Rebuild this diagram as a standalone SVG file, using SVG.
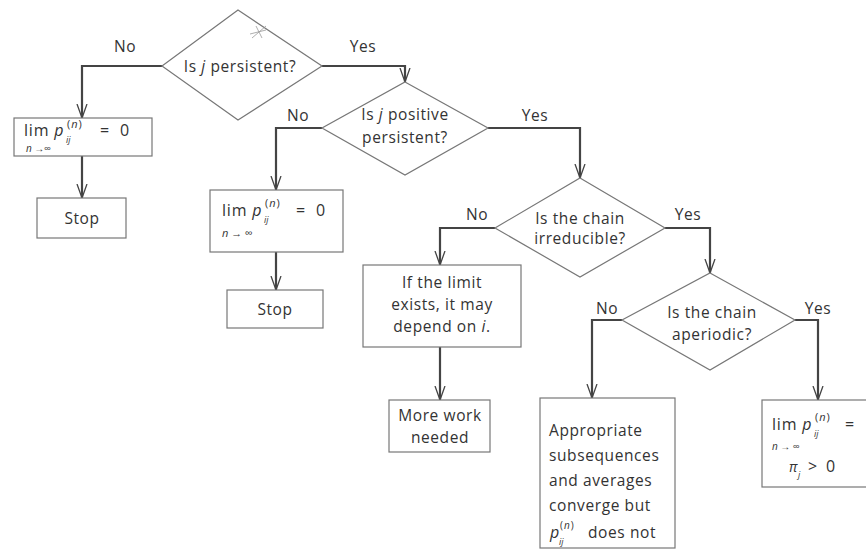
<svg xmlns="http://www.w3.org/2000/svg" width="866" height="552" viewBox="0 0 866 552">
<defs>
<style>
.shape{fill:#fff;stroke:#777;stroke-width:1.2}
.conn{fill:none;stroke:#444;stroke-width:2.2}
.t{font-family:"Open Sans","Liberation Sans",sans-serif;font-size:15.5px;letter-spacing:0.6px;fill:#333}
.c{text-anchor:middle}
.m{font-family:"Open Sans","Liberation Sans",sans-serif;fill:#333}
.i{font-style:italic}
.sup{font-size:11px;letter-spacing:1px}
.sub{font-size:9px}
</style>
<marker id="arr" viewBox="0 0 14 12" refX="14" refY="6" markerWidth="14" markerHeight="12" markerUnits="userSpaceOnUse" orient="auto">
<path d="M0,1 L14,6 L0,11 M2,6 L14,6" fill="none" stroke="#444" stroke-width="1.3"/>
</marker>
</defs>
<rect width="866" height="552" fill="#fff"/>

<g id="connectors">
<path class="conn" d="M162,66 H82 V118" marker-end="url(#arr)"/>
<path class="conn" d="M82,156 V198" marker-end="url(#arr)"/>
<path class="conn" d="M322,66 H405 V82" marker-end="url(#arr)"/>
<path class="conn" d="M322,128 H276 V190" marker-end="url(#arr)"/>
<path class="conn" d="M276,252 V290" marker-end="url(#arr)"/>
<path class="conn" d="M488,128 H580 V178" marker-end="url(#arr)"/>
<path class="conn" d="M495,228 H440 V265" marker-end="url(#arr)"/>
<path class="conn" d="M440,347 V400" marker-end="url(#arr)"/>
<path class="conn" d="M665,228 H710 V273" marker-end="url(#arr)"/>
<path class="conn" d="M622,320 H592 V398" marker-end="url(#arr)"/>
<path class="conn" d="M795,320 H818 V400" marker-end="url(#arr)"/>
<text class="t c" x="125" y="52">No</text>
<text class="t c" x="363" y="52">Yes</text>
<text class="t c" x="298" y="121">No</text>
<text class="t c" x="535" y="121">Yes</text>
<text class="t c" x="477" y="220">No</text>
<text class="t c" x="688" y="220">Yes</text>
<text class="t c" x="607" y="314">No</text>
<text class="t c" x="818" y="314">Yes</text>
</g>

<g id="d1">
<polygon class="shape" points="238,10 322,66 238,120 162,66"/>
<path d="M250,34 L266,30 M256,26 L262,38 M252,38 L266,26" stroke="#999" stroke-width="0.8" fill="none"/>
<text class="t c" x="240" y="72">Is <tspan class="i">j</tspan> persistent?</text>
</g>

<g id="b1">
<rect class="shape" x="14" y="118" width="138" height="38"/>
<text class="m" font-size="16" x="24" y="136" letter-spacing="0.8">lim <tspan class="i">p</tspan></text>
<text class="m sup" x="67" y="128">(<tspan class="i">n</tspan>)</text>
<text class="m sub i" x="66" y="143">ij</text>
<text class="m" font-size="16" x="100" y="136">=</text>
<text class="m" font-size="16" x="120" y="136">0</text>
<text class="m" font-size="10" x="26" y="152"><tspan class="i">n</tspan> →∞</text>
</g>

<g id="s1">
<rect class="shape" x="37" y="198" width="89" height="40"/>
<text class="t c" x="82" y="224">Stop</text>
</g>

<g id="d2">
<polygon class="shape" points="405,82 488,128 405,175 322,128"/>
<text class="t c" x="405" y="120">Is <tspan class="i">j</tspan> positive</text>
<text class="t c" x="405" y="143">persistent?</text>
</g>

<g id="b2">
<rect class="shape" x="210" y="190" width="133" height="62"/>
<text class="m" font-size="16" x="222" y="216" letter-spacing="0.8">lim <tspan class="i">p</tspan></text>
<text class="m sup" x="265" y="207">(<tspan class="i">n</tspan>)</text>
<text class="m sub i" x="264" y="223">ij</text>
<text class="m" font-size="16" x="296" y="216">=</text>
<text class="m" font-size="16" x="316" y="216">0</text>
<text class="m" font-size="11" x="222" y="237"><tspan class="i">n</tspan> → ∞</text>
</g>

<g id="s2">
<rect class="shape" x="227" y="290" width="96" height="38"/>
<text class="t c" x="275" y="315">Stop</text>
</g>

<g id="d3">
<polygon class="shape" points="580,178 665,228 580,277 495,228"/>
<text class="t c" x="580" y="224">Is the chain</text>
<text class="t c" x="580" y="244">irreducible?</text>
</g>

<g id="b3">
<rect class="shape" x="363" y="265" width="158" height="82"/>
<text class="t c" x="442" y="288">If the limit</text>
<text class="t c" x="442" y="310">exists, it may</text>
<text class="t c" x="442" y="332">depend on <tspan class="i">i</tspan>.</text>
</g>

<g id="b4">
<rect class="shape" x="389" y="400" width="101" height="52"/>
<text class="t c" x="440" y="421">More work</text>
<text class="t c" x="440" y="443">needed</text>
</g>

<g id="d4">
<polygon class="shape" points="710,273 795,320 710,370 622,320"/>
<text class="t c" x="712" y="318">Is the chain</text>
<text class="t c" x="712" y="340">aperiodic?</text>
</g>

<g id="b5">
<rect class="shape" x="540" y="398" width="135" height="150"/>
<text class="t" x="549" y="436">Appropriate</text>
<text class="t" x="549" y="461">subsequences</text>
<text class="t" x="549" y="486">and averages</text>
<text class="t" x="549" y="511">converge but</text>
<text class="m i" font-size="16" x="550" y="538">p</text>
<text class="m" font-size="10" letter-spacing="1" x="560" y="529">(<tspan class="i">n</tspan>)</text>
<text class="m sub i" x="559" y="545">ij</text>
<text class="t" x="588" y="538">does not</text>
</g>

<g id="b6">
<rect class="shape" x="762" y="400" width="110" height="87"/>
<text class="m" font-size="16" x="772" y="430" letter-spacing="0.8">lim <tspan class="i">p</tspan></text>
<text class="m sup" x="815" y="421">(<tspan class="i">n</tspan>)</text>
<text class="m sub i" x="814" y="437">ij</text>
<text class="m" font-size="16" x="845" y="430">=</text>
<text class="m" font-size="10" x="772" y="450"><tspan class="i">n</tspan> → ∞</text>
<text class="m i" font-size="14" x="789" y="472">π</text>
<text class="m sub i" x="798" y="478">j</text>
<text class="m" font-size="16" x="808" y="472">&gt;</text>
<text class="m" font-size="16" x="826" y="472">0</text>
</g>
</svg>
